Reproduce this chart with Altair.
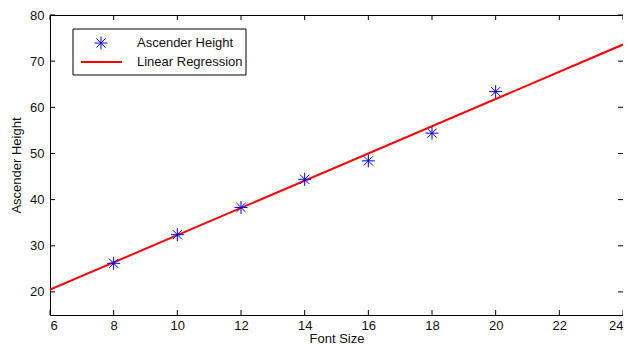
import altair as alt
import pandas as pd

# Data
font_size = [8, 10, 12, 14, 16, 18, 20]
ascender_height = [26.2, 32.4, 38.3, 44.4, 48.4, 54.4, 63.4]
reg_x = [6, 24]
reg_y = [20.5, 73.6]
x_ticks = [6, 8, 10, 12, 14, 16, 18, 20, 22, 24]
y_ticks = [20, 30, 40, 50, 60, 70, 80]
legend_labels = ["Ascender Height", "Linear Regression"]

W, H = 573, 300
FONT = "Liberation Sans"
ASTERISK = "M-1,0L1,0M0,-1L0,1M-0.7,-0.7L0.7,0.7M-0.7,0.7L0.7,-0.7"

pts = pd.DataFrame({"x": font_size, "y": ascender_height})
reg = pd.DataFrame({"x": reg_x, "y": reg_y})
xt = pd.DataFrame({"v": x_ticks})
yt = pd.DataFrame({"v": y_ticks})
one = pd.DataFrame({"a": [0]})

xscale = alt.Scale(domain=[6, 24], nice=False, zero=False)
yscale = alt.Scale(domain=[15, 80], nice=False, zero=False)

xaxis = alt.Axis(values=x_ticks, title="Font Size", domain=False, ticks=False, grid=False,
                 labelPadding=4, titleY=27, titleBaseline="alphabetic", format="d")
yaxis = alt.Axis(values=y_ticks, title="Ascender Height", domain=False, ticks=False, grid=False,
                 labelPadding=6, titlePadding=6, format="d")

line = alt.Chart(reg).mark_line(color="#ff0000", strokeWidth=2, clip=True).encode(
    x=alt.X("x:Q", scale=xscale, axis=xaxis),
    y=alt.Y("y:Q", scale=yscale, axis=yaxis),
)

points = alt.Chart(pts).mark_point(shape=ASTERISK, filled=False, color="#0000ff",
                                    size=169, strokeWidth=1, opacity=1).encode(
    x=alt.X("x:Q", scale=xscale),
    y=alt.Y("y:Q", scale=yscale),
)

tick_b = alt.Chart(xt).mark_rule(color="black", strokeWidth=1).encode(
    x=alt.X("v:Q", scale=xscale), y=alt.value(H), y2=alt.value(H - 5))
tick_t = alt.Chart(xt).mark_rule(color="black", strokeWidth=1).encode(
    x=alt.X("v:Q", scale=xscale), y=alt.value(0), y2=alt.value(5))
tick_l = alt.Chart(yt).mark_rule(color="black", strokeWidth=1).encode(
    y=alt.Y("v:Q", scale=yscale), x=alt.value(0), x2=alt.value(5))
tick_r = alt.Chart(yt).mark_rule(color="black", strokeWidth=1).encode(
    y=alt.Y("v:Q", scale=yscale), x=alt.value(W), x2=alt.value(W - 5))

leg_box = alt.Chart(one).mark_rect(fill="white", stroke="black", strokeWidth=1).encode(
    x=alt.value(23), x2=alt.value(196), y=alt.value(14), y2=alt.value(60))
leg_star = alt.Chart(one).mark_point(shape=ASTERISK, filled=False, color="#0000ff",
                                      size=169, strokeWidth=1, opacity=1).encode(
    x=alt.value(51), y=alt.value(28))
leg_line = alt.Chart(one).mark_rule(color="#ff0000", strokeWidth=2).encode(
    x=alt.value(31), x2=alt.value(72), y=alt.value(47))
leg_t1 = alt.Chart(one).mark_text(align="left", baseline="middle", font=FONT, fontSize=13,
                                  color="#111").encode(
    x=alt.value(87), y=alt.value(28), text=alt.value(legend_labels[0]))
leg_t2 = alt.Chart(one).mark_text(align="left", baseline="middle", font=FONT, fontSize=13,
                                  color="#111").encode(
    x=alt.value(87), y=alt.value(47), text=alt.value(legend_labels[1]))

chart = alt.layer(
    line, points, tick_b, tick_t, tick_l, tick_r,
    leg_box, leg_star, leg_line, leg_t1, leg_t2
).properties(
    width=W, height=H,
    autosize=alt.AutoSizeParams(type="none"),
    padding={"left": 42, "top": 7, "right": 0, "bottom": 30},
).configure_view(
    stroke="black", strokeWidth=1
).configure_axis(
    labelFont=FONT, labelFontSize=13, labelColor="#111",
    titleFont=FONT, titleFontSize=13, titleColor="#111", titleFontWeight="normal",
)

chart.save("out.html", embed_options={"renderer": "svg", "actions": False})
